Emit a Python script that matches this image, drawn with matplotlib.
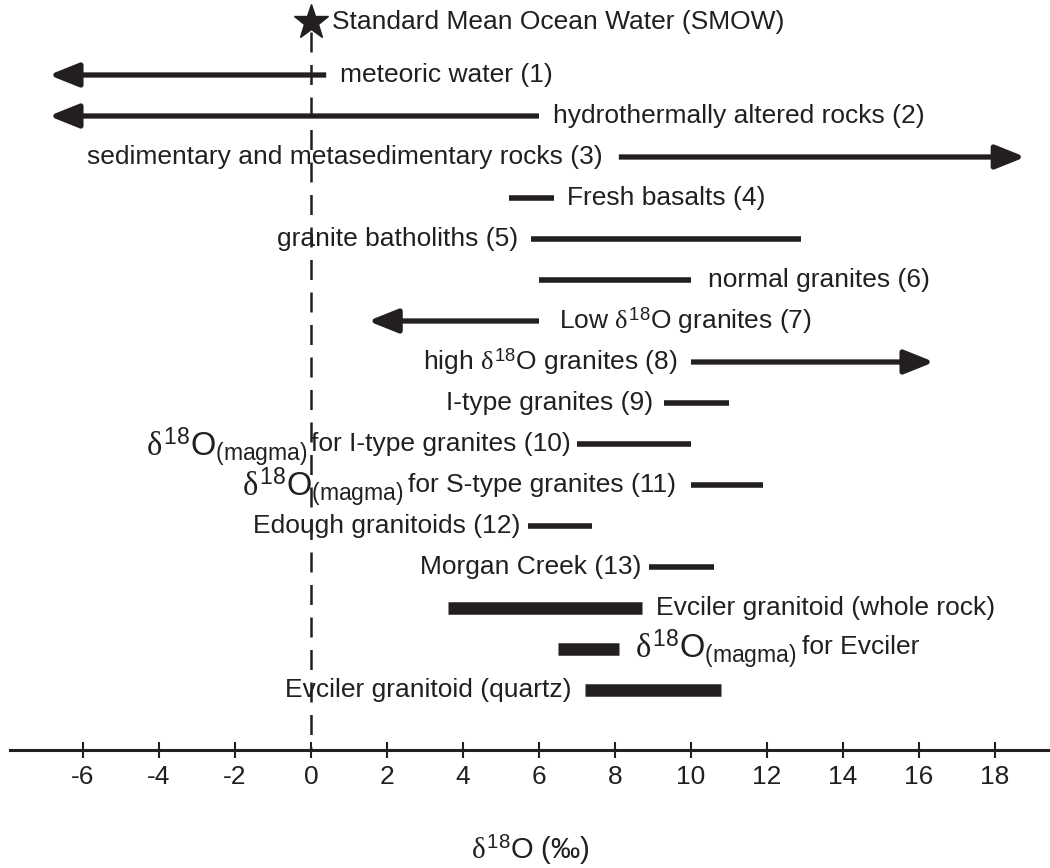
import numpy as np
import matplotlib
matplotlib.use('Agg')
import matplotlib.pyplot as plt

plt.rcParams['font.family'] = ['Liberation Sans', 'DejaVu Sans']
plt.rcParams['mathtext.fontset'] = 'custom'
plt.rcParams['mathtext.rm'] = 'Liberation Sans'
plt.rcParams['mathtext.it'] = 'Liberation Serif'
plt.rcParams['axes.unicode_minus'] = False

# delta18O ranges (permil)
labels = ['meteoric water (1)', 'hydrothermally altered rocks (2)',
          'sedimentary and metasedimentary rocks (3)', 'Fresh basalts (4)',
          'granite batholiths (5)', 'normal granites (6)',
          r'Low $\delta^{18}$O granites (7)', r'high $\delta^{18}$O granites (8)',
          'I-type granites (9)', 'for I-type granites (10)',
          'for S-type granites (11)', 'Edough granitoids (12)',
          'Morgan Creek (13)', 'Evciler granitoid (whole rock)',
          'for Evciler', 'Evciler granitoid (quartz)']
lo = [-6.9, -6.9, 8.1, 5.2, 5.8, 6.0, 1.5, 10.0, 9.3, 7.0, 10.0, 5.7, 8.9, 3.6, 6.5, 7.2]
hi = [0.4, 6.0, 18.8, 6.4, 12.9, 10.0, 6.0, 16.4, 11.0, 10.0, 11.9, 7.4, 10.6, 8.7, 8.1, 10.8]
arrow = ['left', 'left', 'right', None, None, None, 'left', 'right',
         None, None, None, None, None, None, None, None]
magma_rows = [9, 10, 14]   # rows with the big delta18O(magma) prefix
ticks = list(range(-6, 19, 2))

# layout
side = ['r', 'r', 'l', 'r', 'l', 'r', 'r', 'l', 'l', 'l', 'l', 'l', 'l', 'r', 'r', 'l']
gap = [14, 14, 16, 13, 13, 17, 20, 14, 11, 6, 15, 7, 8, 14, 16, 13]
thick = [False] * 13 + [True] * 3
fs = 19
c = '#231f20'

fig = plt.figure(figsize=(10.5, 8.68), dpi=100)
ax = fig.add_axes([0, 0, 1, 1])
ax.set_xlim(-311 / 38, 739 / 38)
ax.set_ylim(1 + 793 / 41, 1 - 75 / 41)
ax.patch.set_alpha(0)

rows = np.arange(1, len(labels) + 1)
axis_y = 1 + 675 / 41

# SMOW reference
ax.plot([0, 0], [-0.05, axis_y - 0.05], color=c, lw=1.8, dashes=(8, 5))
ax.plot(0, -0.3, marker='*', ms=26, color=c, zorder=5)
ax.text(0.55, -0.3, 'Standard Mean Ocean Water (SMOW)', fontsize=fs,
        ha='left', va='center', color=c)

for i, y in enumerate(rows):
    if arrow[i] is None:
        ax.plot([lo[i], hi[i]], [y, y], color=c, lw=9 if thick[i] else 4,
                solid_capstyle='butt')
    else:
        tip, start = (lo[i], hi[i]) if arrow[i] == 'left' else (hi[i], lo[i])
        ax.annotate('', xy=(tip, y), xytext=(start, y),
                    arrowprops=dict(arrowstyle='-|>,head_length=0.75,head_width=0.3',
                                    mutation_scale=24, lw=3.8, color=c,
                                    shrinkA=0, shrinkB=0, capstyle='butt'))
    g = gap[i] / 38
    if side[i] == 'r':
        x, ha = hi[i] + g, 'left'
    else:
        x, ha = lo[i] - g, 'right'
    if i in magma_rows and side[i] == 'r':
        t0 = ax.text(x, y, r'$\delta^{18}\mathrm{O}_{\mathrm{(magma)}}$', fontsize=23.5,
                     ha='left', va='center', color=c)
        ax.annotate(labels[i], xy=(1, 0.5), xycoords=t0, xytext=(6, 2),
                    textcoords='offset pixels', fontsize=fs, ha='left', va='center',
                    color=c)
    else:
        t = ax.text(x, y, labels[i], fontsize=fs, ha=ha, va='center', color=c)
        if i in magma_rows:
            ax.annotate(r'$\delta^{18}\mathrm{O}_{\mathrm{(magma)}}$', xy=(0, 0.5),
                        xycoords=t, xytext=(-4, -2), textcoords='offset pixels',
                        fontsize=23.5, ha='right', va='center', color=c)

# x axis drawn across the lower part
for s in ['top', 'right', 'left']:
    ax.spines[s].set_visible(False)
ax.spines['bottom'].set_position(('data', axis_y))
ax.spines['bottom'].set_bounds(-301 / 38, 739 / 38)
ax.spines['bottom'].set_linewidth(2.2)
ax.spines['bottom'].set_color(c)
ax.yaxis.set_visible(False)
ax.set_xticks(ticks)
ax.set_xticklabels([str(t) for t in ticks])
ax.tick_params(axis='x', direction='inout', length=11, width=1.5, pad=5,
               labelsize=fs, colors=c)

fig.text(0.505, 1 - 850 / 868, r'$\delta^{18}$O (‰)', fontsize=21,
         ha='center', va='center', color=c)

fig.savefig('out.png', dpi=100)
